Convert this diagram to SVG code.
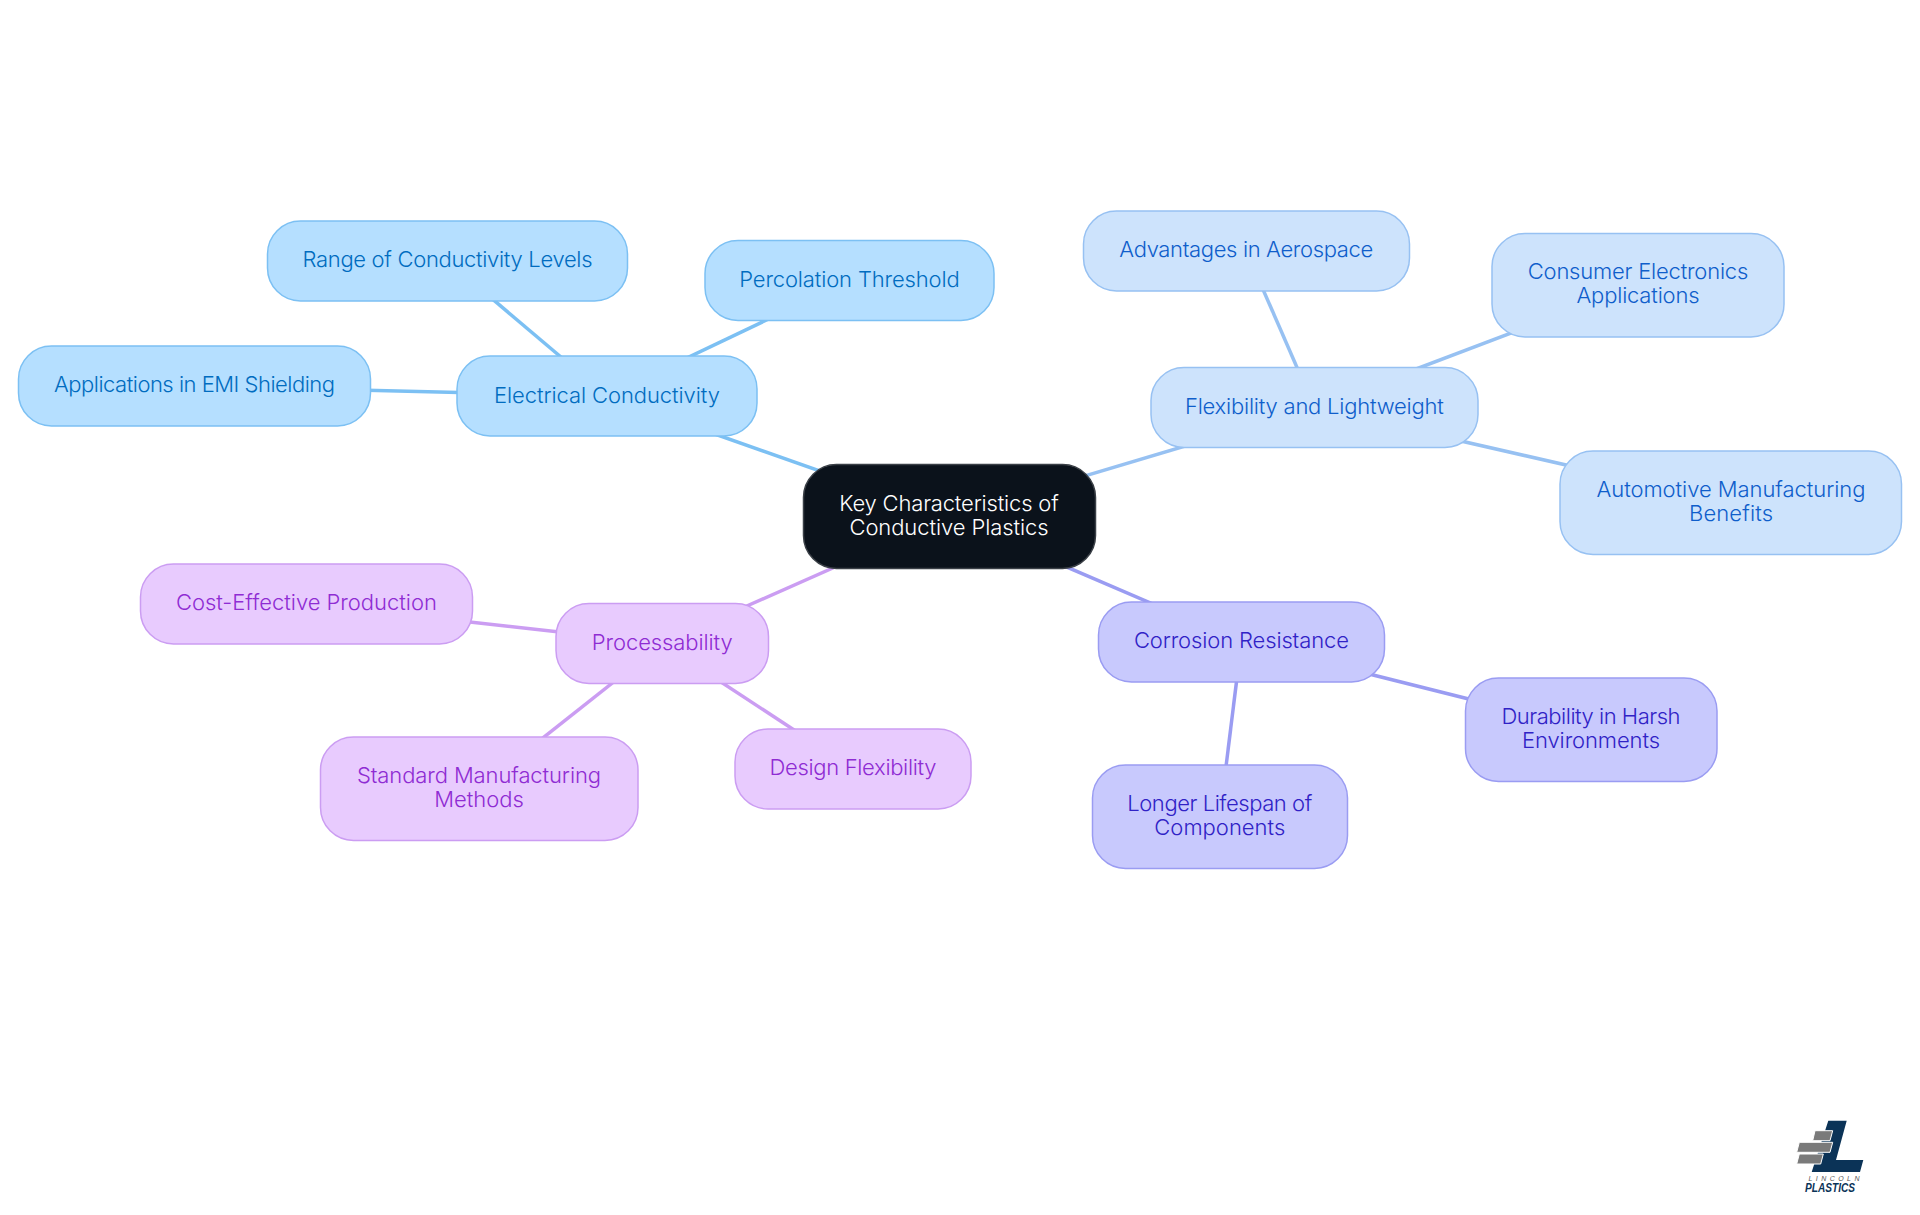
<svg xmlns="http://www.w3.org/2000/svg" width="1920" height="1215" viewBox="0 0 1920 1215">
<style>
text{font-family:"Inter","Noto Sans",sans-serif;font-size:22px;font-weight:350;text-anchor:middle}
.n rect{stroke-width:1.5}
.c line{stroke-width:3.5;stroke-linecap:butt}
.root rect{fill:#0b121b;stroke:#3b4047}.root text{fill:#fff}
.sky rect{fill:#b5dfff;stroke:#7cc0f3}.sky text{fill:#006cc0}
.blue rect{fill:#cde3fc;stroke:#97c1f2}.blue text{fill:#0f5ecb}
.ind rect{fill:#c8c9fd;stroke:#9a9cf2}.ind text{fill:#3022c6}
.pur rect{fill:#e8cbfe;stroke:#cb9df2}.pur text{fill:#8f2cd3}
.lsky{stroke:#7cc0f3}.lblue{stroke:#97c1f2}.lind{stroke:#9a9cf2}.lpur{stroke:#cb9df2}
</style>
<rect width="1920" height="1215" fill="#fff"/>
<g id="connectors" class="c">
<line class="lsky" x1="949" y1="516.5" x2="607" y2="396"/>
<line class="lsky" x1="607" y1="396" x2="447.5" y2="261"/>
<line class="lsky" x1="607" y1="396" x2="849.5" y2="280.5"/>
<line class="lsky" x1="607" y1="396" x2="194.5" y2="386"/>
<line class="lblue" x1="949" y1="516.5" x2="1314.4" y2="407.5"/>
<line class="lblue" x1="1314.4" y1="407.5" x2="1246.3" y2="251"/>
<line class="lblue" x1="1314.4" y1="407.5" x2="1638" y2="285"/>
<line class="lblue" x1="1314.4" y1="407.5" x2="1731" y2="502.7"/>
<line class="lind" x1="949" y1="516.5" x2="1241.4" y2="642"/>
<line class="lind" x1="1241.4" y1="642" x2="1591" y2="729.7"/>
<line class="lind" x1="1241.4" y1="642" x2="1219.8" y2="816.7"/>
<line class="lpur" x1="949" y1="516.5" x2="662.3" y2="643.5"/>
<line class="lpur" x1="662.3" y1="643.5" x2="306.4" y2="603.7"/>
<line class="lpur" x1="662.3" y1="643.5" x2="479" y2="788.5"/>
<line class="lpur" x1="662.3" y1="643.5" x2="853" y2="768.7"/>
</g>
<g id="root" class="n root"><rect x="803.5" y="464.5" width="292" height="104" rx="33"/>
<text x="949" y="510.7" textLength="219.5">Key Characteristics of</text><text x="949" y="535" textLength="199">Conductive Plastics</text></g>
<g id="electrical" class="n sky"><rect x="457" y="356" width="300" height="80" rx="33"/><text x="607" y="403" textLength="226">Electrical Conductivity</text></g>
<g id="range" class="n sky"><rect x="267.5" y="221" width="360" height="80" rx="33"/><text x="447.5" y="267.3" textLength="290">Range of Conductivity Levels</text></g>
<g id="percolation" class="n sky"><rect x="705" y="240.5" width="289" height="80" rx="33"/><text x="849.5" y="287" textLength="220.5">Percolation Threshold</text></g>
<g id="emi" class="n sky"><rect x="18.5" y="346" width="352" height="80" rx="33"/><text x="194.5" y="392.3" textLength="281">Applications in EMI Shielding</text></g>
<g id="flexibility" class="n blue"><rect x="1151" y="367.5" width="327" height="80" rx="33"/><text x="1314.4" y="414" textLength="259">Flexibility and Lightweight</text></g>
<g id="aerospace" class="n blue"><rect x="1083.5" y="211" width="326" height="80" rx="33"/><text x="1246.3" y="256.8" textLength="254">Advantages in Aerospace</text></g>
<g id="consumer" class="n blue"><rect x="1492" y="233.5" width="292" height="103.5" rx="33"/><text x="1638" y="279.3" textLength="220.5">Consumer Electronics</text><text x="1638" y="303.3" textLength="123">Applications</text></g>
<g id="automotive" class="n blue"><rect x="1560" y="451" width="341.5" height="103.5" rx="33"/><text x="1731" y="497.3" textLength="269">Automotive Manufacturing</text><text x="1731" y="521.3" textLength="84">Benefits</text></g>
<g id="corrosion" class="n ind"><rect x="1098.5" y="602" width="286" height="80" rx="33"/><text x="1241.4" y="648" textLength="215">Corrosion Resistance</text></g>
<g id="durability" class="n ind"><rect x="1465.5" y="678" width="251.5" height="103.5" rx="33"/><text x="1591" y="724" textLength="179">Durability in Harsh</text><text x="1591" y="748" textLength="138">Environments</text></g>
<g id="lifespan" class="n ind"><rect x="1092.5" y="765" width="255" height="103.5" rx="33"/><text x="1219.8" y="811" textLength="185">Longer Lifespan of</text><text x="1219.8" y="835" textLength="131">Components</text></g>
<g id="processability" class="n pur"><rect x="556" y="603.5" width="212.5" height="80" rx="33"/><text x="662.3" y="650" textLength="141">Processability</text></g>
<g id="cost" class="n pur"><rect x="140.5" y="564" width="332" height="80" rx="33"/><text x="306.4" y="610" textLength="261">Cost-Effective Production</text></g>
<g id="standard" class="n pur"><rect x="320.5" y="737" width="317.5" height="103.5" rx="33"/><text x="479" y="783.3" textLength="244">Standard Manufacturing</text><text x="479" y="807.3" textLength="89.5">Methods</text></g>
<g id="design" class="n pur"><rect x="735" y="729" width="236" height="80" rx="33"/><text x="853" y="775" textLength="167">Design Flexibility</text></g>
<g id="logo">
<polygon points="1828.3,1120.7 1846.7,1120.7 1836,1160 1863.3,1160 1860,1172 1811.7,1172" fill="#0b3357"/>
<g fill="#7a7a7a" stroke="#fff" stroke-width="1">
<polygon points="1815,1130.7 1832.7,1130.7 1830,1140.7 1812.7,1140.7"/>
<polygon points="1799.3,1142.3 1832.7,1142.3 1830,1152.3 1796.7,1152.3"/>
<polygon points="1799.3,1154 1823.3,1154 1820.7,1164 1796.7,1164"/>
</g>
<text x="1834" y="1181" textLength="51" style="font-family:'Liberation Sans',sans-serif;font-size:7px;font-weight:400;font-style:italic;fill:#555">LINCOLN</text>
<text x="1830" y="1192.3" textLength="50" lengthAdjust="spacingAndGlyphs" style="font-family:'Liberation Sans',sans-serif;font-size:12px;font-weight:700;font-style:italic;fill:#0b3357">PLASTICS</text>
</g>
</svg>
